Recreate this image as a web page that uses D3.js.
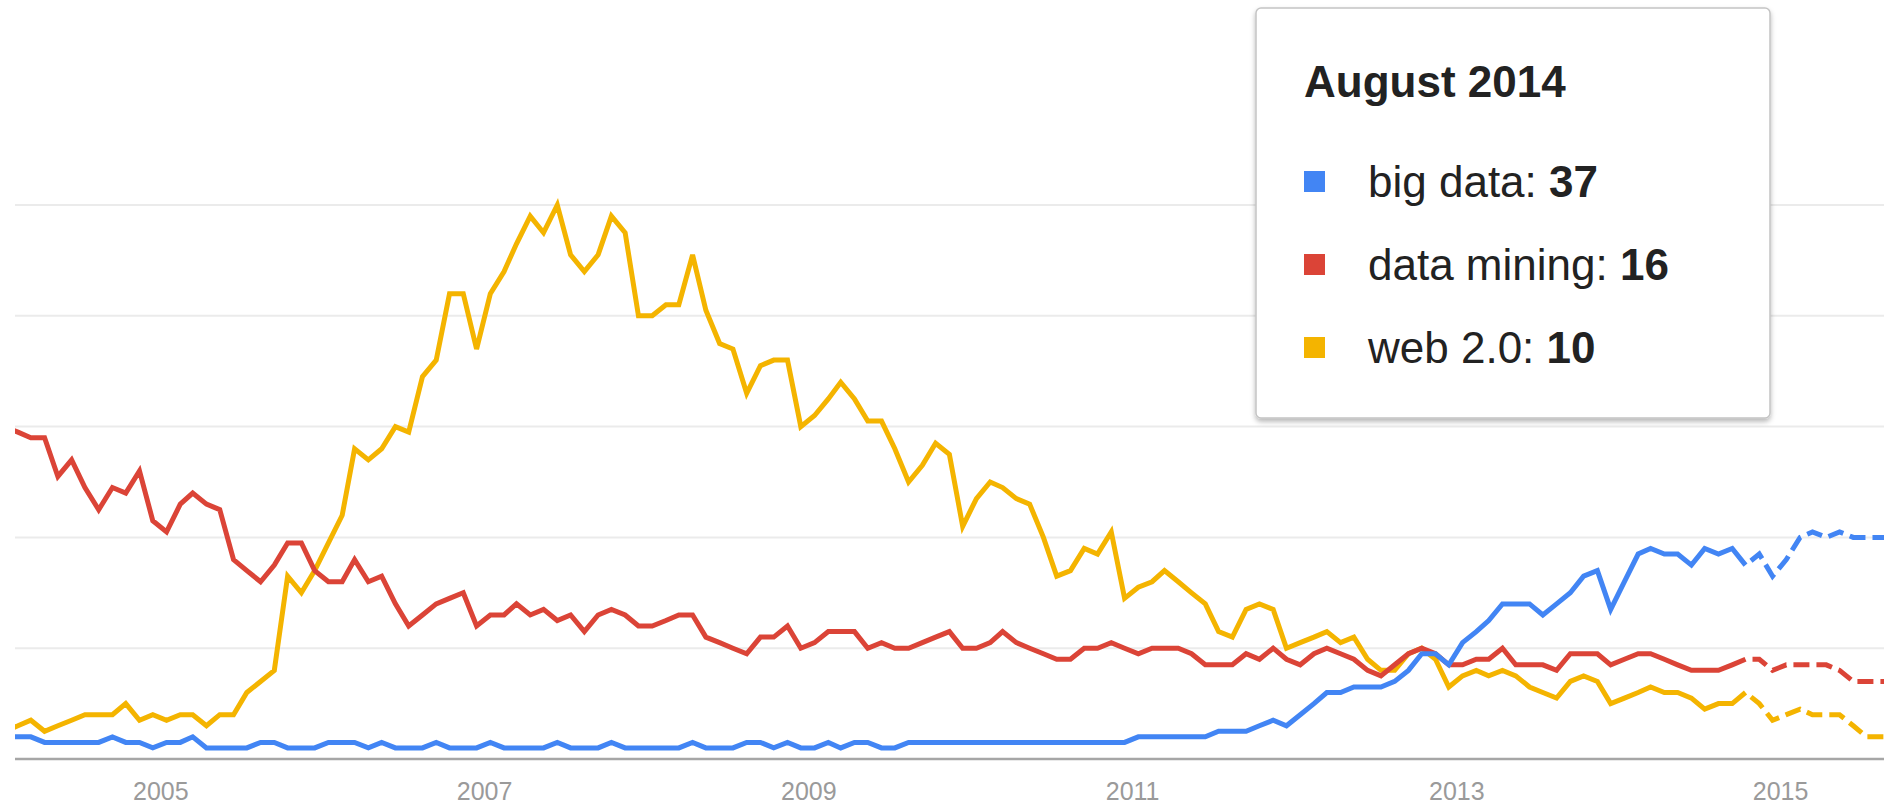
<!DOCTYPE html>
<html>
<head>
<meta charset="utf-8">
<script src="https://cdn.jsdelivr.net/npm/d3@7"></script>
<style>
  body { margin: 0; background: #fff; }
  svg { display: block; font-family: Arial, "Liberation Sans", sans-serif; }
</style>
</head>
<body>
<svg id="trends" width="1884" height="806"></svg>
<script>
// monthly interest, Jan 2004 .. Oct 2014 (one row per year)
var bigData = [
  4,4,4,3,3,3,3,3,4,3,3,2,
  3,3,4,2,2,2,2,3,3,2,2,2,
  3,3,3,2,3,2,2,2,3,2,2,2,
  3,2,2,2,2,3,2,2,2,3,2,2,
  2,2,2,3,2,2,2,3,3,2,3,2,
  2,3,2,3,3,2,2,3,3,3,3,3,
  3,3,3,3,3,3,3,3,3,3,3,3,
  4,4,4,4,4,4,5,5,5,6,7,6,
  8,10,12,12,13,13,13,14,16,19,19,17,
  21,23,25,28,28,28,26,28,30,33,34,27,
  32,37,38,37,37,35,38,37,38,35
];
var dataMining = [
  60,59,58,58,51,54,49,45,49,48,52,43,
  41,46,48,46,45,36,34,32,35,39,39,34,
  32,32,36,32,33,28,24,26,28,29,30,24,
  26,26,28,26,27,25,26,23,26,27,26,24,
  24,25,26,26,22,21,20,19,22,22,24,20,
  21,23,23,23,20,21,20,20,21,22,23,20,
  20,21,23,21,20,19,18,18,20,20,21,20,
  19,20,20,20,19,17,17,17,19,18,20,18,
  17,19,20,19,18,16,15,17,19,20,19,17,
  17,18,18,20,17,17,17,16,19,19,19,17,
  18,19,19,18,17,16,16,16,17,18
];
var web20 = [
  5,6,7,5,6,7,8,8,8,10,7,8,
  7,8,8,6,8,8,12,14,16,33,30,34,
  39,44,56,54,56,60,59,69,72,84,84,74,
  84,88,93,98,95,100,91,88,91,98,95,80,
  80,82,82,91,81,75,74,66,71,72,72,60,
  62,65,68,65,61,61,56,50,53,57,55,42,
  47,50,49,47,46,40,33,34,38,37,41,29,
  31,32,34,32,30,28,23,22,27,28,27,20,
  21,22,23,21,22,18,16,16,19,20,18,13,
  15,16,15,16,15,13,12,11,14,15,14,10,
  11,12,13,12,12,11,9,10,10,12
];
// forecast (dashed), Oct 2014 .. Sep 2015
var bigDataForecast    = [35,37,33,36,40,41,40,41,40,40,40,40];
var dataMiningForecast = [18,18,16,17,17,17,17,16,14,14,14,14];
var web20Forecast      = [12,10,7,8,9,8,8,8,6,4,4,4];

var seriesNames  = ['big data', 'data mining', 'web 2.0'];
var seriesColors = ['#4285f4', '#db4437', '#f4b400'];
var tickYears    = [2005, 2007, 2009, 2011, 2013, 2015];
var gridValues   = [20, 40, 60, 80, 100];
var hoverTitle   = 'August 2014';
var hoverIndex   = 127;

var svg = d3.select('#trends');
var width = 1884, height = 806,
    plotLeft = 15;

var x = d3.scaleTime()
          .domain([new Date(2004, 0, 1), new Date(2016, 0, 1)])
          .range([-2, 1942]);
var y = d3.scaleLinear().domain([0, 100]).range([759, 205]);

function monthDate(i) { return new Date(2004, i, 15); }

function toPoints(values, start) {
  return values.map((v, k) => ({date: monthDate(start + k), value: v}));
}

var solid    = [bigData, dataMining, web20].map((s) => toPoints(s, 0));
var forecast = [bigDataForecast, dataMiningForecast, web20Forecast]
                 .map((s) => toPoints(s, bigData.length - 1));

var defs = svg.append('defs');
defs.append('clipPath').attr('id', 'plot-clip')
    .append('rect')
    .attr('x', plotLeft).attr('y', 0)
    .attr('width', width - plotLeft).attr('height', height);

var shadow = defs.append('filter').attr('id', 'tip-shadow')
                 .attr('x', '-5%').attr('y', '-5%')
                 .attr('width', '110%').attr('height', '115%');
shadow.append('feDropShadow')
      .attr('dx', 0).attr('dy', 3).attr('stdDeviation', 2.5)
      .attr('flood-color', '#000').attr('flood-opacity', 0.28);

// gridlines
svg.append('g').attr('class', 'grid')
   .selectAll('line')
   .data(gridValues)
   .enter()
   .append('line')
   .attr('x1', plotLeft).attr('x2', width)
   .attr('y1', (d) => y(d)).attr('y2', (d) => y(d))
   .attr('stroke', '#ebebeb')
   .attr('stroke-width', 2);

// baseline
svg.append('line')
   .attr('x1', plotLeft).attr('x2', width)
   .attr('y1', y(0)).attr('y2', y(0))
   .attr('stroke', '#a6a6a6')
   .attr('stroke-width', 2.5);

// year labels
var xAxis = d3.axisBottom(x)
              .tickValues(tickYears.map((yr) => new Date(yr, 0, 1)))
              .tickFormat(d3.timeFormat('%Y'))
              .tickSize(0);
var gx = svg.append('g')
            .attr('transform', 'translate(0,' + y(0) + ')')
            .call(xAxis);
gx.select('.domain').remove();
gx.selectAll('text')
  .attr('y', 41)
  .attr('dy', 0)
  .attr('fill', '#9a9a9a')
  .style('font-size', '25px')
  .style('font-family', 'Arial, "Liberation Sans", sans-serif');

var line = d3.line()
             .x((d) => x(d.date))
             .y((d) => y(d.value));

var gLines = svg.append('g').attr('clip-path', 'url(#plot-clip)');

// draw in reverse so blue ends on top
[2, 1, 0].forEach(function(k) {
  gLines.append('path')
        .datum(solid[k])
        .attr('d', line)
        .attr('fill', 'none')
        .attr('stroke', seriesColors[k])
        .attr('stroke-width', 5)
        .attr('stroke-linejoin', 'miter')
        .attr('class', 'trend trend-' + k);
  gLines.append('path')
        .datum(forecast[k])
        .attr('d', line)
        .attr('fill', 'none')
        .attr('stroke', seriesColors[k])
        .attr('stroke-width', 5)
        .attr('stroke-dasharray', '16,7')
        .attr('stroke-dashoffset', 16)
        .attr('class', 'forecast forecast-' + k);
});

// hover card
var tip = svg.append('g').attr('class', 'tooltip');
tip.append('rect')
   .attr('x', 1256).attr('y', 8)
   .attr('width', 514).attr('height', 410)
   .attr('rx', 5)
   .attr('fill', '#fff')
   .attr('stroke', '#c4c4c4')
   .attr('stroke-width', 1.5)
   .attr('filter', 'url(#tip-shadow)');

tip.append('text')
   .attr('x', 1304).attr('y', 97)
   .attr('fill', '#222')
   .style('font-size', '44px')
   .style('font-weight', 'bold')
   .text(hoverTitle);

var rowValues = [bigData[hoverIndex], dataMining[hoverIndex], web20[hoverIndex]];
var rows = tip.selectAll('g.row')
              .data(seriesNames)
              .enter()
              .append('g')
              .attr('class', 'row')
              .attr('transform', (d, k) => 'translate(0,' + (k * 83) + ')');

rows.append('rect')
    .attr('x', 1304).attr('y', 171)
    .attr('width', 21).attr('height', 21)
    .attr('fill', (d, k) => seriesColors[k]);

var rowText = rows.append('text')
                  .attr('x', 1368).attr('y', 197)
                  .attr('fill', '#222')
                  .style('font-size', '44px');
rowText.append('tspan').text((d) => d + ': ');
rowText.append('tspan')
       .style('font-weight', 'bold')
       .text((d, k) => rowValues[k]);
</script>
</body>
</html>
